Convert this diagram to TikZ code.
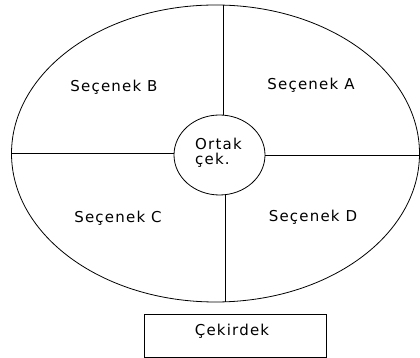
\documentclass[tikz,border=0pt]{standalone}
\usepackage{fontspec}
\setmainfont{DejaVu Sans}[LetterSpace=8]
\usetikzlibrary{shapes.geometric}
\begin{document}
\begin{tikzpicture}[x=1pt,y=1pt,
  lbl/.style={anchor=base,inner sep=0pt,font=\fontsize{15}{17}\selectfont},
  ln/.style={line width=0.8pt}]
\useasboundingbox (0,0) rectangle (420,358);
% outer ellipse
\node[ellipse,draw,ln,minimum width=408pt,minimum height=297pt,inner sep=0pt] (outer) at (215.5,204.5) {};
% inner circle
\node[ellipse,draw,ln,minimum width=91pt,minimum height=80pt,inner sep=0pt] (core) at (219.5,203) {};
% spokes
\coordinate (tp) at (223,353);
\coordinate (bt) at (225,56);
\coordinate (lf) at (12,205);
\coordinate (rt) at (419.5,203);
\draw[ln] (tp) -- (tp |- core.north);
\draw[ln] (bt) -- (bt |- core.south);
\draw[ln] (lf) -- (core.west |- lf);
\draw[ln] (rt) -- (core.east |- rt);
% labels
\node[lbl] (B) at (114,266) {Seçenek B};
\node[lbl] (A) at (311,268) {Seçenek A};
\node[lbl] (C) at (118,135) {Seçenek C};
\node[lbl] (D) at (313,136) {Seçenek D};
\node[lbl,anchor=base west] (o1) at (195,208) {Ortak};
\node[lbl,anchor=base west] (o2) at (195,193) {çek.};
% kernel box
\node[draw,ln,minimum width=182pt,minimum height=43pt,inner sep=0pt] (box) at (235,22.5) {};
\node[lbl] (k) at (232,22) {Çekirdek};
\end{tikzpicture}
\end{document}
